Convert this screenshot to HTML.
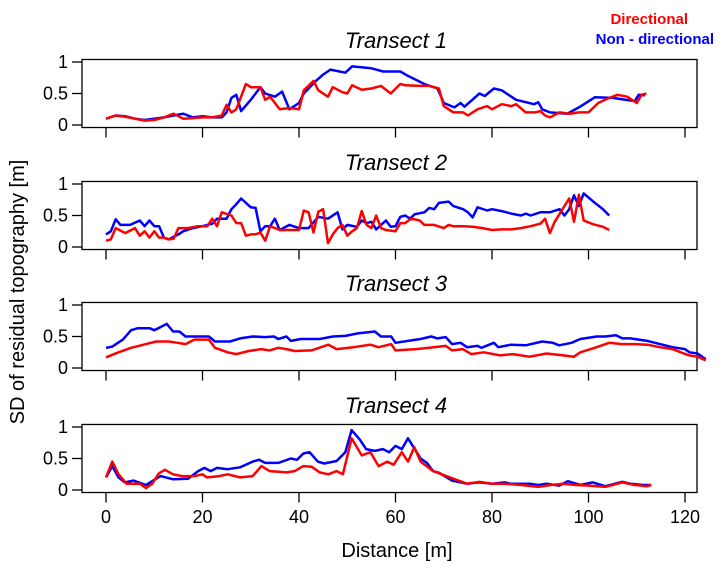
<!DOCTYPE html>
<html><head><meta charset="utf-8"><style>
body{margin:0;background:#fff;}
svg{display:block;font-family:"Liberation Sans",sans-serif;}
</style></head><body>
<svg id="chart" width="720" height="568" viewBox="0 0 720 568" xmlns="http://www.w3.org/2000/svg">
<text x="688" y="24" text-anchor="end" font-size="15" font-weight="bold" fill="#f00">Directional</text>
<text x="714" y="44" text-anchor="end" font-size="15" font-weight="bold" fill="#00f">Non - directional</text>
<text transform="translate(24,292) rotate(-90)" text-anchor="middle" font-size="20">SD of residual topography [m]</text>
<text x="397" y="557" text-anchor="middle" font-size="20">Distance [m]</text>
</svg>
<script>
const titles = ["Transect 1","Transect 2","Transect 3","Transect 4"];
const xTicks = [0,20,40,60,80,100,120];
const yTicks = [0,0.5,1];
const yTickLabels = ["0","0.5","1"];

const t1BlueX = [0,2,4,6,8,10,12,14,16,18,20,22,24,25,26,27,28,30,32,33,35,36.5,38,40,41,43.5,45,46.5,49.6,51,55,57.4,61,62.6,66,68.7,70,72.2,73.5,74.3,77.4,78.5,80.4,82,85,88.7,89.6,90.4,92,95.6,98,101.3,105,109.6,110.4,111.7];
const t1BlueY = [0.1,0.15,0.14,0.1,0.08,0.1,0.12,0.15,0.18,0.12,0.14,0.12,0.12,0.2,0.43,0.48,0.22,0.4,0.6,0.5,0.45,0.53,0.25,0.35,0.5,0.7,0.8,0.88,0.83,0.93,0.9,0.85,0.85,0.78,0.65,0.58,0.35,0.28,0.35,0.29,0.5,0.46,0.58,0.55,0.4,0.33,0.36,0.25,0.2,0.18,0.28,0.44,0.43,0.38,0.48,0.47];
const t1RedX = [0,2,4,6,8,10,12,14,16,18,20,22,24,25,26,27,29,30,32,33,34,36,38,40,41,43,44,46,47,49,50,51,53,55,57,59,61,62,65,67,69,70,72,74,75,77,79,80,82,84,85,87,89,90,91,92,94,96,98,100,102,104,106,108,110,111,112];
const t1RedY = [0.1,0.15,0.13,0.1,0.07,0.08,0.12,0.18,0.1,0.11,0.12,0.12,0.15,0.32,0.2,0.25,0.65,0.6,0.6,0.4,0.45,0.25,0.27,0.25,0.55,0.7,0.55,0.45,0.6,0.52,0.5,0.63,0.56,0.58,0.62,0.5,0.65,0.63,0.62,0.62,0.58,0.3,0.2,0.2,0.15,0.25,0.3,0.25,0.33,0.3,0.33,0.2,0.2,0.22,0.15,0.12,0.2,0.18,0.2,0.2,0.35,0.42,0.48,0.45,0.35,0.48,0.5];

const t2BlueX = [0,1,2,3,5,7,8,9,10,11,12,13,15,16,18,20,22,23,25,26,27,28,30,31,32,33,34,35,36,38,40,42,44,46,48,49,50,52,53,54,55,56,58,59,60,61,62,63,64,66,67,68,69,71,72,74,75,76,77,79,80,82,84,86,87,88,90,92,94,95,96,97,98,99,101,103,104.3];
const t2BlueY = [0.2,0.25,0.44,0.35,0.35,0.42,0.33,0.42,0.33,0.33,0.15,0.12,0.2,0.25,0.3,0.33,0.37,0.45,0.45,0.6,0.68,0.77,0.63,0.62,0.25,0.33,0.33,0.45,0.27,0.35,0.3,0.3,0.48,0.45,0.55,0.28,0.35,0.32,0.42,0.38,0.4,0.28,0.42,0.32,0.33,0.48,0.5,0.45,0.52,0.55,0.62,0.6,0.7,0.72,0.65,0.6,0.55,0.47,0.63,0.58,0.6,0.57,0.53,0.5,0.53,0.5,0.55,0.55,0.6,0.5,0.6,0.82,0.65,0.85,0.72,0.6,0.5];
const t2RedX = [0,1,2,4,6,7,8,9,10,11,12,13,14,15,17,19,21,22,23,24,26,27,28,29,30,31,32,33,34,36,38,40,41,42,43,44,45,46,47,48,49,50,51,52,53,54,55,56,57,58,59,60,61,62,63,64,65,66,68,70,71,72,74,76,78,80,82,84,86,88,90,91,92,93,96,97,98,99,101,103,104.3];
const t2RedY = [0.1,0.12,0.3,0.22,0.3,0.18,0.25,0.15,0.25,0.15,0.15,0.12,0.13,0.3,0.3,0.33,0.33,0.45,0.33,0.55,0.5,0.38,0.38,0.18,0.2,0.2,0.23,0.1,0.33,0.27,0.27,0.27,0.58,0.55,0.23,0.56,0.6,0.06,0.2,0.3,0.35,0.18,0.25,0.3,0.57,0.35,0.3,0.5,0.3,0.27,0.26,0.25,0.38,0.38,0.44,0.44,0.42,0.35,0.35,0.3,0.35,0.33,0.33,0.32,0.3,0.27,0.28,0.28,0.3,0.33,0.37,0.45,0.22,0.4,0.77,0.4,0.83,0.42,0.36,0.32,0.27];

const t3BlueX = [0,1.3,3.5,5.2,6.5,9.1,10,12.6,13.9,15.2,16.5,19.1,21.3,22.6,25.7,27.8,30.4,33,34.8,35.7,37.4,38.3,40.4,44.3,47,49.6,52.2,55.7,57,59.1,60,62.6,65.2,67.4,68.7,70.4,71.7,73.5,74.8,77,77.8,80.4,81.3,83.9,87,90.4,92.6,93.9,96.5,98.3,101.7,103.5,105.7,107,108.7,112.2,114.8,117.4,120,120.9,122.6,124.3];
const t3BlueY = [0.32,0.34,0.45,0.6,0.63,0.63,0.6,0.7,0.58,0.58,0.5,0.5,0.5,0.42,0.42,0.47,0.5,0.49,0.5,0.46,0.5,0.43,0.46,0.46,0.5,0.51,0.55,0.58,0.5,0.5,0.4,0.43,0.46,0.5,0.47,0.49,0.38,0.4,0.33,0.35,0.32,0.4,0.33,0.37,0.36,0.42,0.4,0.36,0.4,0.46,0.5,0.5,0.52,0.47,0.47,0.43,0.38,0.33,0.3,0.25,0.23,0.14];
const t3RedX = [0,2.6,5.2,7.8,10.4,13,14.8,16.5,18.3,21.3,22.6,25.2,27,29.6,32.2,33.9,35.7,37.4,39.1,42.6,46.1,47.8,51.3,54.8,56.5,59.1,60,64.3,67,70.4,71.7,73.9,75.7,78.3,81.7,84.3,87.8,91.3,94.8,97,98.3,101.7,104.3,106.9,109.6,112.2,114.8,117.4,119.1,120.9,122.6,124.3];
const t3RedY = [0.17,0.25,0.32,0.37,0.42,0.42,0.4,0.38,0.45,0.45,0.32,0.25,0.22,0.27,0.3,0.28,0.32,0.3,0.27,0.28,0.37,0.3,0.33,0.37,0.33,0.38,0.28,0.3,0.32,0.35,0.28,0.3,0.22,0.25,0.2,0.22,0.18,0.23,0.2,0.18,0.25,0.33,0.4,0.38,0.38,0.37,0.33,0.3,0.25,0.2,0.18,0.12];

const t4BlueX = [0,1.3,2.6,3.9,5.7,8.3,11.3,13.9,17,19.1,20.4,21.7,23,25.2,27.8,30.4,31.7,33,35.7,38.3,39.6,40.9,42.2,43.9,45.2,47.8,49.6,50.9,52.6,53.9,55.7,57.4,58.7,60,61.3,62.6,65.2,66.5,67.8,69.1,71.7,74.8,77.4,80,82.6,83.9,87.8,89.6,91.3,93.9,95.7,98.3,100.9,103.5,107,108.7,111.3,113];
const t4BlueY = [0.2,0.38,0.2,0.12,0.15,0.08,0.22,0.17,0.18,0.3,0.35,0.3,0.35,0.33,0.36,0.45,0.48,0.43,0.43,0.5,0.48,0.58,0.6,0.45,0.42,0.46,0.6,0.95,0.8,0.65,0.62,0.65,0.6,0.7,0.65,0.82,0.5,0.43,0.3,0.27,0.15,0.1,0.12,0.1,0.12,0.1,0.1,0.08,0.1,0.07,0.14,0.08,0.12,0.06,0.13,0.1,0.08,0.08];
const t4RedX = [0,1.3,2.6,4.3,7,8.3,9.6,10.9,12.2,13.9,15.7,18.3,20,20.9,23.5,25.2,27.8,30.4,32.2,33.9,37.4,39.1,40.9,42.6,44.3,46.1,47.8,49.1,50.9,53,54.8,56.5,58.3,59.6,61.3,62.6,63.9,65.2,67.8,71.3,74.8,77.4,80,82.6,86.1,89.6,92.2,94.8,97.4,100,103.5,107,109.6,112.2,113];
const t4RedY = [0.2,0.45,0.25,0.1,0.1,0.03,0.1,0.26,0.32,0.25,0.22,0.22,0.25,0.2,0.22,0.25,0.2,0.22,0.38,0.3,0.28,0.3,0.38,0.37,0.28,0.25,0.3,0.25,0.82,0.55,0.6,0.38,0.45,0.4,0.6,0.45,0.68,0.45,0.3,0.2,0.1,0.13,0.1,0.1,0.08,0.05,0.08,0.1,0.08,0.07,0.05,0.12,0.08,0.06,0.08];

const blueX=[t1BlueX,t2BlueX,t3BlueX,t4BlueX], blueY=[t1BlueY,t2BlueY,t3BlueY,t4BlueY];
const redX=[t1RedX,t2RedX,t3RedX,t4RedX], redY=[t1RedY,t2RedY,t3RedY,t4RedY];

const NS="http://www.w3.org/2000/svg";
const svg=document.getElementById('chart');
const boxL=82, boxR=697, yOneTop=[62,184,305,427], unit=63;
function xs(m){return 106+m*4.825;}
function mk(tag,attrs){const e=document.createElementNS(NS,tag);for(const k in attrs)e.setAttribute(k,attrs[k]);svg.appendChild(e);return e;}
for(let p=0;p<4;p++){
  const y1=yOneTop[p], y0=y1+unit;
  const ys=v=>y0-v*unit;
  const top=ys(1.04), bot=ys(-0.04);
  const box=mk('rect',{x:boxL,y:top,width:boxR-boxL,height:bot-top,fill:'none',stroke:'#000','stroke-width':1.3});
  
  
  const t=mk('text',{x:396,y:y1-14,'text-anchor':'middle','font-size':22,'font-style':'italic'});
  t.textContent=titles[p];
  
  
  yTicks.forEach((v,i)=>{
    const l=mk('line',{x1:boxL,x2:boxL-10,y1:ys(v),y2:ys(v),stroke:'#000','stroke-width':1.3});
    
    
    const tx=mk('text',{x:68,y:ys(v)+6,'text-anchor':'end','font-size':18});
    tx.textContent=yTickLabels[i];
    
    
  });
  xTicks.forEach(v=>{
    const l=mk('line',{x1:xs(v),x2:xs(v),y1:bot,y2:bot+10,stroke:'#000','stroke-width':1.3});
    
    
    if(p===3){
      const tx=mk('text',{x:xs(v),y:523,'text-anchor':'middle','font-size':18});
      tx.textContent=String(v);
      
      
    }
  });
  const bp=blueX[p].map((x,i)=>xs(x).toFixed(1)+','+ys(blueY[p][i]).toFixed(1)).join(' ');
  const b=mk('polyline',{points:bp,fill:'none',stroke:'#0000ff','stroke-width':2.5,'stroke-linejoin':'round'});
  
  
  const rp=redX[p].map((x,i)=>xs(x).toFixed(1)+','+ys(redY[p][i]).toFixed(1)).join(' ');
  const r=mk('polyline',{points:rp,fill:'none',stroke:'#ff0000','stroke-width':2.5,'stroke-linejoin':'round'});
  
  
}
</script>
</body></html>
